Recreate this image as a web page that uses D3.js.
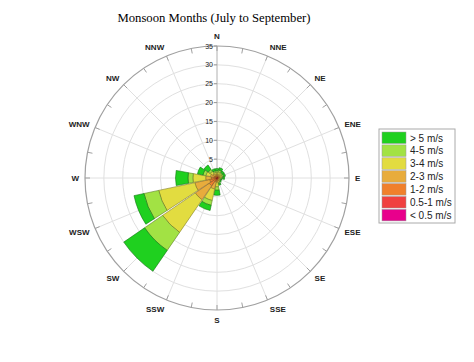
<!DOCTYPE html>
<html>
<head>
<meta charset="utf-8">
<script src="https://cdn.jsdelivr.net/npm/d3@7"></script>
<style>
  body { margin: 0; background: #fff; }
  svg { display: block; }
</style>
</head>
<body>
<svg id="rose" width="474" height="362"></svg>
<script>
// compass sectors, clockwise from north
const directions = ["N","NNE","NE","ENE","E","ESE","SE","SSE","S","SSW","SW","WSW","W","WNW","NW","NNW"];
// speed classes from the centre outwards
const classes = ["< 0.5 m/s","0.5-1 m/s","1-2 m/s","2-3 m/s","3-4 m/s","4-5 m/s","> 5 m/s"];
const classColors = ["#e8008c","#f04040","#f0802c","#e8ac3c","#e2dc40","#a2e244","#1fd01f"];
// frequency (%) of each class per direction
const calm   = [0.05,0.05,0.05,0.05,0.05,0.05,0.05,0.05,0.05,0.1,0.1,0.1,0.1,0.1,0.1,0.05];
const v05_1  = [0.1,0.1,0.1,0.1,0.1,0.1,0.1,0.1,0.1,0.1,0.3,0.2,0.2,0.1,0.1,0.1];
const v1_2   = [0.4,0.4,0.4,0.4,0.3,0.3,0.3,0.3,0.4,0.8,2.1,1.7,1.2,0.6,0.5,0.4];
const v2_3   = [0.5,0.5,0.4,0.4,0.4,0.3,0.3,0.4,0.6,2.0,4.5,4.0,1.5,1.0,0.7,0.5];
const v3_4   = [0.5,0.6,0.5,0.5,0.4,0.2,0.25,0.4,1.2,3.1,10.5,9.8,3.4,1.2,0.8,0.5];
const v4_5   = [0.4,0.5,0.35,0.35,0.3,0.15,0.15,0.3,0.9,1.3,5.8,4.0,1.3,0.8,0.6,0.4];
const vOver5 = [0.55,0.65,0.5,0.5,0.45,0.2,0.25,0.45,1.35,1.4,6.7,2.7,3.3,1.5,1.4,0.55];
const series = [calm, v05_1, v1_2, v2_3, v3_4, v4_5, vOver5];
const radialTicks = [5,10,15,20,25,30,35];

const svg = d3.select("#rose");
const cx = 217, cy = 178, R = 132;
const r = d3.scaleLinear().domain([0, 35]).range([0, R]);
const g = svg.append("g").attr("transform", `translate(${cx},${cy})`);
const rad = deg => deg * Math.PI / 180;

svg.append("text")
  .attr("x", 214).attr("y", 22)
  .attr("text-anchor", "middle")
  .attr("font-family", "Liberation Serif, Times New Roman, serif")
  .attr("font-size", 12.7)
  .text("Monsoon Months (July to September)");

// grid rings
g.selectAll("circle.ring").data(radialTicks.slice(0, -1)).join("circle")
  .attr("class", "ring")
  .attr("r", d => r(d))
  .attr("fill", "none").attr("stroke", "#e0e0e0").attr("stroke-width", 1);

// spokes
g.selectAll("line.spoke").data(directions).join("line")
  .attr("class", "spoke")
  .attr("x1", 0).attr("y1", 0)
  .attr("x2", (d, i) => R * Math.sin(rad(i * 22.5)))
  .attr("y2", (d, i) => -R * Math.cos(rad(i * 22.5)))
  .attr("stroke", (d, i) => i == 0 ? "#b0b0b0" : "#e0e0e0").attr("stroke-width", 1);

// outer ring with ticks
g.append("circle").attr("r", R).attr("fill", "none").attr("stroke", "#a0a0a0").attr("stroke-width", 1.2);
g.selectAll("line.otick").data(d3.range(32)).join("line")
  .attr("class", "otick")
  .attr("x1", d => R * Math.sin(rad(d * 11.25))).attr("y1", d => -R * Math.cos(rad(d * 11.25)))
  .attr("x2", d => (R - 5) * Math.sin(rad(d * 11.25))).attr("y2", d => -(R - 5) * Math.cos(rad(d * 11.25)))
  .attr("stroke", "#a0a0a0").attr("stroke-width", 1);

// petals
const arc = d3.arc();
const stacked = directions.map((dir, i) => {
  let acc = 0;
  return series.map((s, k) => {
    const inner = acc; acc += s[i];
    return {dir: i, cls: k, inner, outer: acc};
  });
}).flat();
g.selectAll("path.petal").data(stacked).join("path")
  .attr("class", "petal")
  .attr("d", d => arc({
    innerRadius: r(d.inner), outerRadius: r(d.outer),
    startAngle: rad(d.dir * 22.5 - 10.5), endAngle: rad(d.dir * 22.5 + 10.5)
  }))
  .attr("fill", d => classColors[d.cls])
  .attr("stroke", d => d3.color(classColors[d.cls]).darker(1.6))
  .attr("stroke-width", 0.6);

// radial axis labels on the north spoke
g.selectAll("line.rtick").data(radialTicks).join("line")
  .attr("class", "rtick")
  .attr("x1", -3).attr("x2", 0)
  .attr("y1", d => -r(d)).attr("y2", d => -r(d))
  .attr("stroke", "#999");
g.selectAll("text.rlab").data(radialTicks).join("text")
  .attr("class", "rlab")
  .attr("x", -4).attr("y", d => -r(d) + 2.5)
  .attr("text-anchor", "end")
  .attr("font-family", "Liberation Sans, Arial, sans-serif")
  .attr("font-size", 7)
  .attr("fill", "#222")
  .text(d => d);

// direction labels, pushed out so the near edge sits just off the ring
g.selectAll("text.dir").data(directions).join("text")
  .attr("class", "dir")
  .attr("x", (d, i) => 138 * Math.sin(rad(i * 22.5)))
  .attr("y", (d, i) => -142 * Math.cos(rad(i * 22.5)) + 3)
  .attr("text-anchor", (d, i) => i % 8 == 0 ? "middle" : (i < 8 ? "start" : "end"))
  .attr("font-family", "Liberation Sans, Arial, sans-serif")
  .attr("font-weight", "bold")
  .attr("font-size", 8)
  .attr("fill", "#222")
  .text(d => d);

// legend
const lg = svg.append("g").attr("transform", "translate(379,129)");
lg.append("rect").attr("width", 76).attr("height", 94)
  .attr("fill", "#fff").attr("stroke", "#aaa").attr("stroke-width", 1);
const rows = classes.map((c, k) => ({label: c, color: classColors[k]})).reverse();
const item = lg.selectAll("g.item").data(rows).join("g")
  .attr("class", "item")
  .attr("transform", (d, i) => `translate(3,${3 + i * 12.9})`);
item.append("rect").attr("width", 24).attr("height", 11.5)
  .attr("fill", d => d.color).attr("stroke", "#999").attr("stroke-width", 0.5);
item.append("text").attr("x", 28).attr("y", 9.5)
  .attr("font-family", "Liberation Sans, Arial, sans-serif")
  .attr("font-size", 10)
  .attr("fill", "#222")
  .text(d => d.label);
</script>
</body>
</html>
